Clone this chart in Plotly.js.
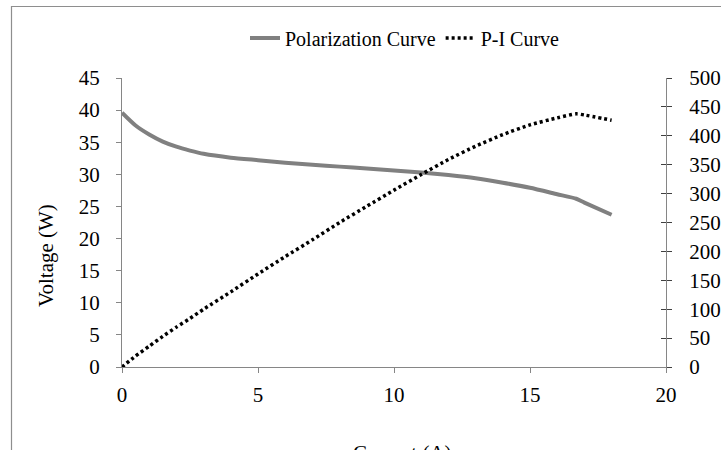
<!DOCTYPE html>
<html>
<head>
<meta charset="utf-8">
<script src="https://cdn.plot.ly/plotly-3.0.1.min.js"></script>
<style>
  html, body { margin: 0; padding: 0; background: #fff; }
  #chart { width: 721px; height: 450px; }
</style>
</head>
<body>
<div id="chart"></div>
<script>
// Current (A)
const current = [0, 0.5, 1, 1.5, 2, 2.5, 3, 4, 5, 6, 7, 8, 9, 10, 11, 12, 13, 14, 15, 16, 16.7, 17, 18];
// Polarization curve voltage
const voltage = [39.6, 37.6, 36.2, 35.1, 34.3, 33.7, 33.2, 32.6, 32.2, 31.8, 31.5, 31.2, 30.9, 30.6, 30.3, 29.9, 29.4, 28.7, 27.9, 26.9, 26.2, 25.6, 23.7];
// P-I curve power
const power = [0, 19, 36, 53, 69, 84, 100, 130, 161, 191, 220, 250, 278, 306, 333, 359, 382, 402, 419, 431, 438, 436, 427];

const seriesNames = ["Polarization Curve", "P-I Curve"];
const leftTicks = [0, 5, 10, 15, 20, 25, 30, 35, 40, 45];
const rightTicks = [0, 50, 100, 150, 200, 250, 300, 350, 400, 450, 500];
const xTicks = [0, 5, 10, 15, 20];
const xTitle = "Current (A)";
const yTitle = "Voltage (W)";

const FONT = "Liberation Serif, Times New Roman, serif";
const W = 721, H = 450;
const M = {l: 122, r: 55, t: 78, b: 83};
const PW = W - M.l - M.r, PH = H - M.t - M.b;
const px = x => (x - M.l) / PW;
const py = y => (H - M.b - y) / PH;

const traces = [
  {
    x: current, y: voltage, name: seriesNames[0], type: "scatter", mode: "lines",
    line: {color: "#808080", width: 4, shape: "spline", smoothing: 0.6},
    xaxis: "x", yaxis: "y", hoverinfo: "skip"
  },
  {
    x: current, y: power, name: seriesNames[1], type: "scatter", mode: "lines",
    line: {color: "#000000", width: 3.5, dash: "3px,3px", shape: "spline", smoothing: 0.6},
    xaxis: "x", yaxis: "y2", hoverinfo: "skip"
  },
  // empty helper trace so the inner-tick copy of the right axis gets drawn
  {
    x: [], y: [], type: "scatter", mode: "lines", showlegend: false,
    xaxis: "x", yaxis: "y3", hoverinfo: "skip"
  }
];

const tickFont = {family: FONT, size: 21, color: "#000"};

const layout = {
  width: W, height: H,
  margin: M,
  paper_bgcolor: "#fff", plot_bgcolor: "#fff",
  font: {family: FONT, size: 21, color: "#000"},
  showlegend: true,
  legend: {
    orientation: "h", x: px(405), xanchor: "center", y: py(38), yanchor: "middle",
    font: {family: FONT, size: 20, color: "#000"}, bgcolor: "rgba(0,0,0,0)",
    itemwidth: 30, tracegroupgap: 0
  },
  xaxis: {
    range: [0, 20], tickvals: xTicks, ticktext: xTicks.map(String),
    showgrid: false, zeroline: false, showline: true, linecolor: "#868686", linewidth: 1,
    ticks: "outside", ticklen: 5, tickcolor: "#868686", tickfont: tickFont,
    ticklabelstandoff: 4, fixedrange: true
  },
  yaxis: {
    range: [0, 45], tickvals: leftTicks, ticktext: leftTicks.map(String),
    showgrid: false, zeroline: false, showline: true, linecolor: "#868686", linewidth: 1,
    ticks: "outside", ticklen: 5, tickcolor: "#868686", tickfont: tickFont,
    ticklabelstandoff: 12, fixedrange: true
  },
  yaxis2: {
    range: [0, 500], tickvals: rightTicks, ticktext: rightTicks.map(String),
    overlaying: "y", side: "right", anchor: "x",
    showgrid: false, zeroline: false, showline: true, linecolor: "#868686", linewidth: 1,
    ticks: "outside", ticklen: 5, tickcolor: "#404040", tickfont: tickFont,
    ticklabelstandoff: 13, fixedrange: true
  },
  yaxis3: {
    range: [0, 500], tickvals: rightTicks, overlaying: "y", side: "right", anchor: "x",
    showgrid: false, zeroline: false, showline: false, showticklabels: false,
    ticks: "inside", ticklen: 5, tickcolor: "#404040", fixedrange: true
  },
  annotations: [
    {
      text: yTitle, textangle: -90, xref: "paper", yref: "paper",
      x: px(46), y: py(256), xanchor: "center", yanchor: "middle",
      showarrow: false, font: {family: FONT, size: 21, color: "#000"}
    },
    {
      text: xTitle, xref: "paper", yref: "paper",
      x: px(402), y: py(439), xanchor: "center", yanchor: "top",
      showarrow: false, font: {family: FONT, size: 21, color: "#000"}
    }
  ],
  shapes: [
    {
      type: "rect", xref: "paper", yref: "paper", layer: "below",
      x0: px(11.5), x1: px(760), y0: py(520), y1: py(6.5),
      line: {color: "#8e8e8e", width: 1.2}, fillcolor: "rgba(0,0,0,0)"
    }
  ]
};

Plotly.newPlot("chart", traces, layout, {displayModeBar: false, staticPlot: true});
</script>
</body>
</html>
